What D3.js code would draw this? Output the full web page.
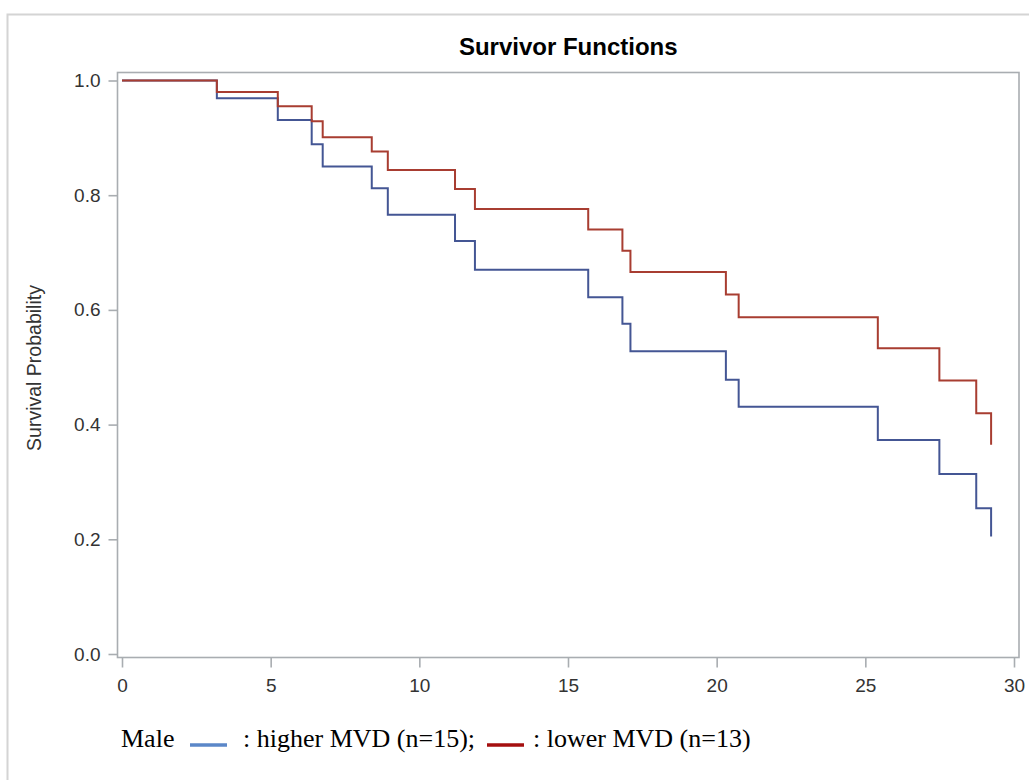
<html>
    <head>
        <title>Survivor Functions</title>
        <style>
            body { margin: 0; background: #fff; }
            text { font-family: "Liberation Sans", Arial, sans-serif; }
            .legend text { font-family: "Liberation Serif", "Times New Roman", serif; }
        </style>
    </head>
    <body>
        <div id="graph"></div>

        <script src="https://cdnjs.cloudflare.com/ajax/libs/d3/7.8.5/d3.min.js"></script>
        <script>
            // event times (months) shared by both curves
            var times = [0, 3.19, 5.24, 6.38, 6.75, 8.40, 8.94, 11.20, 11.87, 15.68, 16.83, 17.10, 20.31, 20.74, 25.42, 27.49, 28.73, 29.23];
            var higherMVD = [1.0, 0.969, 0.931, 0.889, 0.850, 0.812, 0.766, 0.720, 0.670, 0.622, 0.576, 0.528, 0.478, 0.431, 0.373, 0.314, 0.254, 0.205];
            var lowerMVD = [1.0, 0.980, 0.955, 0.929, 0.901, 0.876, 0.844, 0.811, 0.776, 0.740, 0.703, 0.666, 0.627, 0.587, 0.533, 0.477, 0.420, 0.365];
            var xTicks = [0, 5, 10, 15, 20, 25, 30];
            var yTicks = [0.0, 0.2, 0.4, 0.6, 0.8, 1.0];

            var series = [
                { name: "higher", values: higherMVD, color: "#445694", key: "#5b87c8" },
                { name: "lower", values: lowerMVD, color: "#a83d31", key: "#a50f0f" }
            ];

            var frame = { left: 117.5, right: 1019, top: 72.5, bottom: 657.5 };

            var x = d3.scaleLinear().domain([0, 30]).range([122, 1014]);
            var y = d3.scaleLinear().domain([0, 1]).range([654, 80.5]);

            var svg = d3.select("#graph")
                .append("svg")
                .attr("width", 1029)
                .attr("height", 780);

            // outer border (only top/left visible in the picture)
            svg.append("rect")
                .attr("x", 7.5).attr("y", 14.5)
                .attr("width", 1100).attr("height", 900)
                .attr("fill", "none")
                .attr("stroke", "#d4d4d4")
                .attr("stroke-width", 2);

            svg.append("text")
                .attr("x", (frame.left + frame.right) / 2)
                .attr("y", 54.5)
                .attr("text-anchor", "middle")
                .style("font-weight", "bold")
                .style("font-size", "24px")
                .attr("fill", "#000")
                .text("Survivor Functions");

            // plot frame
            svg.append("rect")
                .attr("x", frame.left).attr("y", frame.top)
                .attr("width", frame.right - frame.left)
                .attr("height", frame.bottom - frame.top)
                .attr("fill", "none")
                .attr("stroke", "#a9adb1")
                .attr("stroke-width", 1.6);

            var yAxis = svg.append("g")
                .attr("transform", "translate(" + frame.left + ",0)")
                .call(d3.axisLeft(y).tickValues(yTicks).tickFormat(d3.format(".1f")).tickSize(9).tickPadding(8));

            var xAxis = svg.append("g")
                .attr("transform", "translate(0," + frame.bottom + ")")
                .call(d3.axisBottom(x).tickValues(xTicks).tickSize(10).tickPadding(11));

            [yAxis, xAxis].forEach(function(ax) {
                ax.select(".domain").remove();
                ax.selectAll(".tick line").attr("stroke", "#a9adb1").attr("stroke-width", 1.6);
                ax.selectAll(".tick text")
                    .attr("fill", "#333")
                    .style("font-family", "'Liberation Sans', Arial, sans-serif")
                    .style("font-size", "19px");
            });

            svg.append("text")
                .attr("transform", "translate(41,368) rotate(-90)")
                .attr("text-anchor", "middle")
                .style("font-size", "19.5px")
                .attr("fill", "#333")
                .text("Survival Probability");

            var line = d3.line()
                .x(function(d, i) { return x(times[i]); })
                .y(function(d) { return y(d); })
                .curve(d3.curveStepAfter);

            svg.selectAll("path.curve")
                .data(series)
                .enter()
                .append("path")
                .attr("class", "curve")
                .attr("d", function(s) { return line(s.values); })
                .attr("fill", "none")
                .attr("stroke", function(s) { return s.color; })
                .attr("stroke-width", 2);

            // legend, laid out as in the picture
            var legend = svg.append("g").attr("class", "legend");
            var legendY = 747;
            legend.append("text").attr("x", 121).attr("y", legendY).style("font-size", "26px").text("Male");
            legend.append("line").attr("x1", 190).attr("x2", 227).attr("y1", legendY - 2).attr("y2", legendY - 2)
                .attr("stroke", series[0].key).attr("stroke-width", 3.5);
            legend.append("text").attr("x", 243).attr("y", legendY).style("font-size", "26px").text(": higher MVD (n=15);");
            legend.append("line").attr("x1", 487).attr("x2", 524).attr("y1", legendY - 2).attr("y2", legendY - 2)
                .attr("stroke", series[1].key).attr("stroke-width", 3.5);
            legend.append("text").attr("x", 533).attr("y", legendY).style("font-size", "26px").text(": lower MVD (n=13)");
        </script>
    </body>
</html>
